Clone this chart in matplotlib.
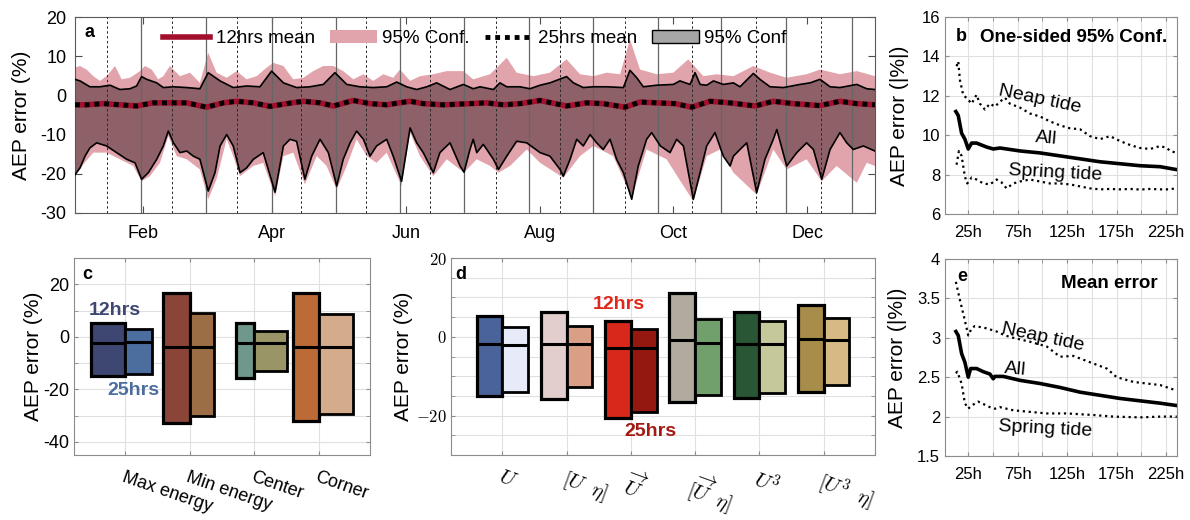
import numpy as np
import matplotlib
matplotlib.use('Agg')
import matplotlib.pyplot as plt
from matplotlib.lines import Line2D
from matplotlib.patches import Patch
from matplotlib.ticker import FixedLocator, MultipleLocator

plt.rcParams['font.family'] = ['Liberation Sans', 'DejaVu Sans']
plt.rcParams['mathtext.fontset'] = 'cm'
plt.rcParams['axes.unicode_minus'] = False

# ---- panel a : AEP error over the year (day of year) ----
month_days = [31, 90, 151, 212, 273, 334]
month_labels = ['Feb', 'Apr', 'Jun', 'Aug', 'Oct', 'Dec']

# 25hrs 95% confidence bounds (black outline)
up25_days = [0, 2.3, 6.8, 11.4, 16.0, 20.5, 25.1, 28.1, 30.4, 32.7, 37.3, 40.3, 44.9, 51.0, 57.0,
             60.8, 66.2, 72.2, 78.3, 84.4, 89.7, 95.1, 101.1, 107.2, 113.3, 118.6, 124.0, 130.0,
             136.1, 142.2, 146.8, 151.3, 155.9, 160.5, 165.0, 171.1,
             177.2, 181.7, 184.8, 190.9, 193.9, 197.0, 203.0, 207.6, 212.2, 216.7, 224.3, 227.4,
             231.9, 236.5, 242.6, 250.2, 253.2, 256.3, 259.3, 265.4, 273.0, 276.0, 280.6, 282.9,
             285.2, 288.2, 291.3, 295.8, 300.4, 303.4, 309.5, 312.5, 317.1, 323.2, 330.8, 335.4,
             339.9, 344.5, 349.0, 356.7, 361.2, 365.0]
up25 = [4.1, 3.7, 2.2, 2.2, 2.6, 1.5, 1.7, 2.4, 4.8, 4.1, 3.2, 2.0, 2.2, 2.0, 1.7,
        5.8, 3.7, 2.0, 2.4, 2.2, 6.2, 3.2, 2.0, 2.2, 2.8, 5.8, 2.8, 2.2,
        2.0, 2.2, 3.4, 2.2, 1.5, 2.2, 3.2, 1.5,
        2.8, 1.7, 2.2, 1.5, 3.2, 2.2, 2.2, 1.7, 2.6, 3.2, 4.8, 3.2,
        2.0, 2.2, 2.2, 2.0, 6.4, 4.5, 2.2, 2.6, 2.8, 3.7, 2.8, 5.8,
        2.8, 2.6, 3.7, 2.8, 3.2, 2.2, 5.6, 4.1, 2.2, 2.0, 2.8, 3.2,
        4.1, 2.2, 2.0, 2.8, 1.7, 1.5]
lo25_days = [0, 2.3, 4.6, 6.8, 9.9, 14.4, 19.0, 23.6, 27.4, 30.4, 33.5, 37.3, 40.3, 42.6, 44.9,
             47.9, 51.0, 54.0, 57.0, 60.8, 63.9, 66.2, 69.2, 72.2, 75.3, 78.3, 81.4, 85.9, 91.3,
             95.1, 98.1, 101.1, 104.9, 108.0, 111.8, 115.6, 119.4, 122.4, 125.5, 128.5, 131.6,
             134.6, 137.6, 142.2, 145.2, 149.0, 152.9, 155.9, 158.9, 163.5, 166.5, 171.1,
             175.7, 177.5, 180.2, 181.7, 183.3, 186.3, 190.9, 193.2, 197.0, 201.5, 206.1, 212.2,
             216.7, 221.3, 222.8, 225.9, 228.9, 231.9, 235.0, 238.0, 241.0, 244.1, 247.1, 250.2,
             254.0, 257.0, 260.8, 263.1, 267.1, 271.5, 274.5, 277.6, 282.1, 285.2, 288.2, 292.0,
             295.8, 298.9, 300.4, 303.4, 306.5, 311.0, 314.8, 318.6, 320.2, 324.7, 329.3, 333.8,
             336.9, 340.7, 344.5, 349.0, 352.1, 355.1, 359.7, 365.0]
lo25 = [-20.2, -18.5, -15.5, -13.4, -12.1, -12.9, -14.6, -16.3, -17.2, -21.4, -19.7, -16.3, -12.9, -9.1, -12.1,
        -14.6, -14.2, -15.5, -16.3, -24.4, -19.7, -12.9, -10.0, -12.9, -19.7, -18.5, -16.3, -14.6, -24.7,
        -12.9, -11.2, -11.7, -21.4, -15.5, -11.2, -14.6, -23.1, -16.3, -12.1, -9.1, -11.2,
        -15.5, -12.9, -11.2, -15.5, -21.9, -8.3, -12.1, -14.6, -19.7, -14.6, -12.1,
        -18.0, -19.6, -13.8, -11.2, -14.6, -12.5, -16.3, -18.9, -15.5, -11.7, -12.1, -14.6,
        -15.5, -18.9, -20.6, -16.3, -11.2, -12.9, -10.0, -12.1, -13.8, -11.2, -16.3, -19.7,
        -26.5, -18.0, -11.2, -9.5, -12.9, -14.6, -11.2, -12.9, -26.5, -19.7, -12.9, -9.5,
        -15.5, -18.0, -15.5, -13.8, -12.1, -24.8, -16.3, -11.2, -8.7, -18.0, -14.6, -12.1,
        -13.8, -21.4, -13.8, -9.5, -12.1, -13.8, -12.9, -14.2]

# 12hrs 95% confidence bounds (pink band)
red_up_days = [0, 2.3, 5.3, 8.4, 11.4, 14.4, 18.3, 21.3, 25.1, 29.7, 31.9, 35.0, 38.0, 40.3, 43.3,
               47.9, 52.5, 57.0, 60.8, 64.6, 69.2, 73.8, 78.3, 82.9, 87.5, 90.5, 95.1, 99.6, 104.2,
               108.7, 113.3, 117.9, 122.4, 127.0, 131.6, 136.1, 140.7, 145.2, 148.3, 152.9, 157.4,
               163.5, 169.6,
               177.2, 181.7, 189.4, 197.0, 201.5, 209.1, 216.7, 224.3, 230.4, 236.5, 242.6, 248.7,
               253.2, 257.8, 265.4, 273.0, 279.8, 286.7, 292.8, 300.4, 309.5, 317.1, 324.7, 333.8,
               339.9, 349.0, 356.7, 365.0]
red_up = [7.1, 7.5, 6.6, 4.9, 3.7, 4.9, 7.5, 4.1, 4.5, 6.2, 7.5, 6.6, 4.1, 4.9, 7.5,
          4.9, 5.8, 3.2, 10.9, 5.8, 4.5, 6.2, 4.1, 4.9, 7.1, 8.3, 7.5, 4.1, 4.5,
          6.2, 7.5, 7.5, 6.2, 4.1, 5.4, 3.7, 5.4, 4.5, 6.6, 3.7, 4.9,
          5.4, 6.2,
          6.2, 4.1, 5.4, 9.6, 5.8, 4.9, 5.8, 9.2, 5.4, 4.9, 5.8, 5.4,
          14.3, 6.6, 5.4, 5.8, 9.2, 4.9, 5.4, 4.9, 7.5, 5.8, 4.5, 5.4,
          6.6, 5.4, 6.2, 4.9]
red_lo_days = [0, 3.8, 8.4, 14.4, 20.5, 26.6, 30.4, 34.2, 38.8, 42.6, 46.4, 51.0, 57.0, 60.8, 64.6,
               69.2, 72.2, 75.3, 81.4, 85.9, 91.3, 95.1, 99.6, 104.9, 110.3, 114.8, 119.4, 124.0,
               128.5, 133.1, 137.6, 142.2, 149.0, 152.9, 157.4, 163.5, 169.6,
               177.5, 183.3, 189.4, 193.2, 198.5, 206.1, 212.2, 222.8, 230.4, 236.5, 245.6, 254.0,
               260.8, 269.9, 282.1, 288.2, 294.3, 300.4, 311.0, 318.6, 324.7, 333.8, 340.7, 347.5,
               356.7, 361.2, 365.0]
red_lo = [-20.6, -17.6, -14.6, -14.6, -16.3, -18.0, -21.9, -20.6, -17.2, -10.4, -15.5, -16.3, -18.9, -26.5, -21.4,
          -11.2, -15.5, -20.6, -18.0, -17.2, -25.7, -15.5, -14.6, -22.7, -15.5, -18.0, -24.0, -18.0,
          -11.2, -15.5, -17.2, -14.6, -23.1, -9.5, -15.5, -20.6, -16.3,
          -19.7, -16.3, -18.0, -19.7, -18.0, -13.8, -17.2, -21.0, -15.5, -12.9, -15.5, -26.1,
          -13.8, -16.3, -27.0, -15.5, -13.8, -19.7, -25.3, -13.8, -18.9, -16.3, -21.9, -18.0,
          -22.3, -17.2, -18.0]

# running means (the two means lie on top of each other)
mean_days = [0, 5.3, 12.9, 20.5, 28.1, 35.7, 43.3, 51.0, 60.0, 67.7, 73.8, 81.4, 89.0, 96.6, 104.2,
             111.8, 117.9, 127.0, 134.6, 142.2, 152.8, 158.9, 168.0, 180.2, 187.8, 195.4, 203.0,
             212.2, 224.3, 233.5, 241.0, 250.9, 257.8, 265.4, 273.7, 281.4, 289.8, 298.8, 310.3,
             318.6, 327.7, 339.9, 349.0, 356.7, 365.0]
mean12 = [-2.4, -2.4, -2.1, -2.4, -2.7, -1.9, -1.9, -1.9, -3.0, -1.9, -1.5, -1.9, -2.8, -2.1, -1.5,
          -1.9, -2.7, -1.3, -2.1, -2.4, -1.5, -2.1, -2.4, -2.1, -1.9, -2.4, -2.1,
          -1.3, -2.7, -1.9, -2.1, -3.0, -1.7, -1.9, -2.1, -3.0, -1.5, -1.9, -2.7,
          -1.5, -2.1, -2.6, -1.5, -2.1, -2.4]
mean25 = mean12

# spring (solid) and neap (dashed) tide markers
spring_days = [30.0, 59.8, 89.7, 118.9, 148.3, 177.6, 207.3, 236.5, 266.1, 294.7, 324.3, 354.4]
neap_days = [14.7, 44.4, 73.8, 103.1, 132.6, 162.0, 191.9, 221.3, 250.9, 281.4, 310.7, 340.4]

# ---- panel b : one-sided 95% conf vs window length ----
b_all_h = [12.5, 14.9, 18.3, 21.6, 25.0, 28.4, 33.4, 43.5, 50.3, 57.0, 77.3, 97.5, 117.7, 138.0,
           158.2, 178.5, 198.7, 219.0, 235.8]
b_all = [11.2, 11.0, 10.1, 9.8, 9.3, 9.6, 9.6, 9.4, 9.3, 9.35, 9.2, 9.1, 8.95, 8.8,
         8.65, 8.55, 8.45, 8.4, 8.25]
b_neap_h = [13.2, 14.9, 16.6, 19.9, 25.0, 28.4, 33.4, 36.8, 41.9, 46.9, 52.0, 57.0, 62.1, 67.1,
            77.3, 87.4, 97.5, 107.6, 117.7, 127.9, 138.0, 148.1, 158.2, 168.3, 178.5, 188.6,
            198.7, 208.8, 219.0, 225.7, 229.0, 235.8]
b_neap = [13.5, 13.75, 12.8, 12.05, 11.8, 11.6, 12.05, 11.6, 11.3, 11.6, 11.45, 11.7, 11.9, 11.6,
          11.4, 11.1, 10.95, 10.7, 10.5, 10.35, 10.3, 9.95, 9.8, 9.95, 9.7, 9.5,
          9.35, 9.3, 9.45, 9.35, 9.2, 9.1]
b_spring_h = [13.2, 15.6, 18.3, 21.6, 24.0, 28.4, 33.4, 40.2, 46.9, 53.7, 58.7, 63.8, 70.5, 77.3,
              87.4, 97.5, 107.6, 117.7, 127.9, 138.0, 148.0, 158.2, 168.3, 178.5, 188.6, 198.7,
              208.8, 219.0, 229.0, 235.8]
b_spring = [8.5, 9.2, 8.95, 7.9, 7.55, 7.85, 7.75, 7.55, 7.5, 7.75, 7.6, 7.3, 7.55, 7.65,
            7.75, 7.65, 7.55, 7.55, 7.5, 7.4, 7.3, 7.25, 7.27, 7.25, 7.27, 7.24,
            7.27, 7.25, 7.25, 7.32]

# ---- panel e : mean error vs window length ----
e_all_h = [12.5, 14.9, 18.3, 21.6, 25.0, 27.4, 33.4, 40.2, 46.9, 50.3, 52.0, 60.4, 77.3, 97.5,
           117.7, 138.0, 158.2, 178.5, 198.7, 219.0, 235.8]
e_all = [3.08, 3.03, 2.8, 2.69, 2.5, 2.61, 2.61, 2.57, 2.54, 2.48, 2.51, 2.51, 2.46, 2.42,
         2.37, 2.31, 2.27, 2.23, 2.2, 2.17, 2.14]
e_neap_h = [12.5, 16.6, 21.6, 25.0, 28.4, 31.8, 43.5, 53.7, 62.1, 70.5, 87.4, 104.3, 117.7, 131.2,
            148.0, 165.0, 175.0, 192.0, 205.4, 219.0, 235.8]
e_neap = [3.71, 3.48, 3.22, 3.03, 3.12, 3.15, 3.12, 3.08, 3.03, 3.0, 2.95, 2.89, 2.76, 2.77,
          2.69, 2.61, 2.5, 2.44, 2.42, 2.4, 2.33]
e_spring_h = [12.5, 13.9, 18.3, 21.6, 25.0, 28.4, 35.1, 46.9, 52.0, 57.0, 70.5, 87.4, 104.3,
              124.5, 151.4, 171.7, 198.7, 219.0, 235.8]
e_spring = [2.55, 2.57, 2.42, 2.17, 2.1, 2.14, 2.19, 2.12, 2.1, 2.12, 2.08, 2.06, 2.04,
            2.04, 2.02, 2.0, 1.99, 2.0, 2.0]

h_ticks = [25, 75, 125, 175, 225]
h_labels = ['25h', '75h', '125h', '175h', '225h']

# ---- panel c : by location ----
c_cats = ['Max energy', 'Min energy', 'Center', 'Corner']
c_top12 = [5.2, 16.8, 5.1, 16.8]
c_mid12 = [-2.5, -3.8, -2.2, -3.8]
c_bot12 = [-15.0, -33.0, -15.5, -32.2]
c_top25 = [2.9, 8.9, 2.4, 8.7]
c_mid25 = [-1.9, -3.8, -2.2, -3.8]
c_bot25 = [-14.0, -30.0, -13.2, -29.2]
c_col12 = ['#3e4771', '#8a4538', '#70978c', '#bd6b36']
c_col25 = ['#4b6e9f', '#9b6e45', '#9a9566', '#d4ac8b']
c_w12 = [0.53, 0.41, 0.28, 0.39]
c_w25 = [0.41, 0.38, 0.51, 0.54]

# ---- panel d : by input variable ----
d_cats = [r'$U$', r'$[U\;\;\eta]$', r'$\overrightarrow{U}$', r'$[\overrightarrow{U}\;\;\eta]$',
          r'$U^3$', r'$[U^3\;\;\eta]$']
d_top12 = [5.2, 6.4, 4.1, 11.1, 6.4, 8.1]
d_mid12 = [-1.9, -1.9, -2.8, -0.8, -1.7, -0.6]
d_bot12 = [-15.0, -15.7, -20.7, -16.5, -15.5, -14.0]
d_top25 = [2.6, 2.8, 1.9, 4.4, 4.0, 4.9]
d_mid25 = [-2.0, -1.9, -2.9, -1.6, -1.7, -0.8]
d_bot25 = [-13.9, -12.7, -19.2, -14.8, -14.2, -12.3]
d_col12 = ['#4a6398', '#e2cfcd', '#d8281b', '#b0ab9e', '#295635', '#a88c4a']
d_col25 = ['#e6eaf9', '#d99e86', '#941810', '#72a06c', '#c4c89b', '#d6b984']

RED = '#a30f2d'
PINK = '#e2a4ac'
MAUVE = '#8d6167'
GRID = '0.88'
SPINE = '0.55'

fig = plt.figure(figsize=(11.9, 5.2), dpi=100)

# ================= a =================
ax = fig.add_axes([0.0630, 0.5904, 0.6723, 0.3769])
ax.fill(np.r_[red_up_days, red_lo_days[::-1]], np.r_[red_up, red_lo[::-1]], color=PINK, lw=0, zorder=1)
ax.fill(np.r_[up25_days, lo25_days[::-1]], np.r_[up25, lo25[::-1]], color=MAUVE, lw=0, zorder=2)
for d in spring_days:
    ax.axvline(d, color='0.4', lw=0.9, zorder=3)
for d in neap_days:
    ax.axvline(d, color='0.15', lw=0.7, ls=(0, (2.5, 2.5)), zorder=3)
ax.plot(up25_days, up25, color='k', lw=1.2, zorder=4)
ax.plot(lo25_days, lo25, color='k', lw=1.2, zorder=4)
ax.plot(mean_days, mean12, color=RED, lw=4, zorder=5)
ax.plot(mean_days, mean25, color='k', lw=3.5, ls=(0, (1, 1)), zorder=6)
ax.set_xlim(0, 365)
ax.set_ylim(-30, 20)
ax.set_xticks(month_days)
ax.set_xticklabels(month_labels)
ax.set_yticks([-30, -20, -10, 0, 10, 20])
ax.tick_params(direction='in', top=True, right=True, length=5, labelsize=13, color='0.3')
ax.tick_params(axis='x', pad=9)
ax.tick_params(axis='y', pad=6)
for s in ax.spines.values():
    s.set_color('0.35')
ax.set_ylabel('AEP error (%)', fontsize=15)
ax.yaxis.set_label_coords(-0.055, 0.5)
handles = [Line2D([], [], color=RED, lw=4),
           Patch(facecolor=PINK),
           Line2D([], [], color='k', lw=3.5, ls=(0, (1, 1))),
           Patch(facecolor='#a6a6a6', edgecolor='k')]
ax.legend(handles, ['12hrs mean', '95% Conf.', '25hrs mean', '95% Conf'], ncol=4,
          loc='upper center', bbox_to_anchor=(0.5, 1.0), frameon=False, fontsize=13.5,
          handlelength=2.5, handletextpad=0.3, columnspacing=0.8, borderaxespad=0.3)
ax.text(0.012, 0.92, 'a', transform=ax.transAxes, fontsize=13, fontweight='bold', va='center')

# ================= b / e =================
def tide_panel(rect, all_h, all_v, neap_h, neap_v, spring_h, spring_v, ylim, yticks, yticklabels,
               labcoord):
    a = fig.add_axes(rect)
    a.plot(neap_h, neap_v, color='k', ls=':', lw=1.6)
    a.plot(spring_h, spring_v, color='k', ls=':', lw=1.6)
    a.plot(all_h, all_v, color='k', lw=2.6)
    a.set_xlim(1.5, 236)
    a.set_ylim(*ylim)
    a.set_xticks(h_ticks)
    a.set_xticklabels(h_labels)
    a.xaxis.set_minor_locator(FixedLocator([50, 100, 150, 200]))
    a.set_yticks(yticks)
    a.set_yticklabels(yticklabels)
    a.grid(True, which='both', color=GRID, lw=0.8)
    a.set_axisbelow(True)
    a.tick_params(which='both', direction='in', top=True, right=True, length=3, labelsize=12,
                  color=SPINE)
    a.tick_params(axis='x', pad=8)
    for s in a.spines.values():
        s.set_color(SPINE)
    a.set_ylabel('AEP error (|%|)', fontsize=15)
    a.yaxis.set_label_coords(labcoord, 0.5)
    return a

axb = tide_panel([0.7941, 0.5885, 0.1950, 0.3788], b_all_h, b_all, b_neap_h, b_neap,
                 b_spring_h, b_spring, (6, 16), [6, 8, 10, 12, 14, 16],
                 ['6', '8', '10', '12', '14', '16'], -0.155)
axb.text(0.045, 0.9, 'b', transform=axb.transAxes, fontsize=13, fontweight='bold', va='center')
axb.text(0.15, 0.895, 'One-sided 95% Conf.', transform=axb.transAxes, fontsize=13.5,
         fontweight='bold', va='center')
axb.text(97, 11.8, 'Neap tide', fontsize=14, rotation=-12, ha='center', va='center')
axb.text(104, 9.85, 'All', fontsize=14, rotation=-5, ha='center', va='center')
axb.text(113, 8.1, 'Spring tide', fontsize=14, rotation=-3, ha='center', va='center')

axe = tide_panel([0.7941, 0.1231, 0.1950, 0.3788], e_all_h, e_all, e_neap_h, e_neap,
                 e_spring_h, e_spring, (1.5, 4), [1.5, 2, 2.5, 3, 3.5, 4],
                 ['1.5', '2', '2.5', '3', '3.5', '4'], -0.165)
axe.text(0.055, 0.91, 'e', transform=axe.transAxes, fontsize=13, fontweight='bold', va='center')
axe.text(0.71, 0.876, 'Mean error', transform=axe.transAxes, fontsize=13.5, fontweight='bold',
         ha='center', va='center')
axe.text(100, 3.0, 'Neap tide', fontsize=14, rotation=-12, ha='center', va='center')
axe.text(72, 2.6, 'All', fontsize=14, rotation=-5, ha='center', va='center')
axe.text(103, 1.84, 'Spring tide', fontsize=14, rotation=-3, ha='center', va='center')

# ================= c / d =================
def range_bars(a, top12, mid12, bot12, top25, mid25, bot25, col12, col25, w12, w25):
    x = np.arange(1, len(top12) + 1)
    w12 = np.asarray(w12, dtype=float)
    w25 = np.asarray(w25, dtype=float)
    a.bar(x, np.subtract(top12, bot12), bottom=bot12, width=-w12, align='edge', color=col12,
          edgecolor='k', lw=2.3, zorder=3)
    a.bar(x, np.subtract(top25, bot25), bottom=bot25, width=w25, align='edge', color=col25,
          edgecolor='k', lw=2.0, zorder=3)
    a.hlines(mid12, x - w12, x, colors='k', lw=2.2, zorder=4)
    a.hlines(mid25, x, x + w25, colors='k', lw=2.2, zorder=4)
    a.set_xticks(x)
    a.grid(True, which='both', color=GRID, lw=0.8)
    a.set_axisbelow(True)
    a.tick_params(which='both', direction='in', top=True, right=True, length=3, color=SPINE)
    for s in a.spines.values():
        s.set_color(SPINE)

axc = fig.add_axes([0.0622, 0.125, 0.2487, 0.3788])
range_bars(axc, c_top12, c_mid12, c_bot12, c_top25, c_mid25, c_bot25, c_col12, c_col25,
           c_w12, c_w25)
axc.set_xlim(0.2, 4.8)
axc.set_ylim(-45, 30)
axc.set_yticks([-40, -20, 0, 20])
axc.yaxis.set_minor_locator(MultipleLocator(10))
axc.set_xticklabels(c_cats, rotation=-19, ha='left', rotation_mode='anchor', fontsize=13)
axc.tick_params(axis='x', pad=10)
axc.tick_params(axis='y', labelsize=13)
axc.set_ylabel('AEP error (%)', fontsize=15)
axc.yaxis.set_label_coords(-0.105, 0.5)
axc.text(0.027, 0.914, 'c', transform=axc.transAxes, fontsize=13, fontweight='bold', va='center')
axc.text(0.83, 10.2, '12hrs', color=c_col12[0], fontsize=14, fontweight='bold',
         ha='center', va='center')
axc.text(1.12, -20.3, '25hrs', color=c_col25[0], fontsize=14, fontweight='bold',
         ha='center', va='center')

axd = fig.add_axes([0.3790, 0.125, 0.3563, 0.3788])
range_bars(axd, d_top12, d_mid12, d_bot12, d_top25, d_mid25, d_bot25, d_col12, d_col25,
           [0.4] * 6, [0.4] * 6)
axd.set_xlim(0.2, 6.8)
axd.set_ylim(-30, 20)
axd.set_yticks([-20, 0, 20])
axd.set_yticklabels([r'$-20$', r'$0$', r'$20$'])
axd.yaxis.set_minor_locator(MultipleLocator(5))
axd.set_xticklabels(d_cats, rotation=-20, ha='left', rotation_mode='anchor', fontsize=15)
axd.tick_params(axis='x', pad=9)
axd.tick_params(axis='y', labelsize=12, pad=3)
axd.set_ylabel('AEP error (%)', fontsize=15)
axd.yaxis.set_label_coords(-0.09, 0.5)
axd.text(0.01, 0.914, 'd', transform=axd.transAxes, fontsize=13, fontweight='bold', va='center')
axd.text(2.81, 8.3, '12hrs', color='#e2281c', fontsize=14, fontweight='bold',
         ha='center', va='center')
axd.text(3.3, -24.1, '25hrs', color='#a41a12', fontsize=14, fontweight='bold',
         ha='center', va='center')

fig.savefig('out.png', dpi=100)
